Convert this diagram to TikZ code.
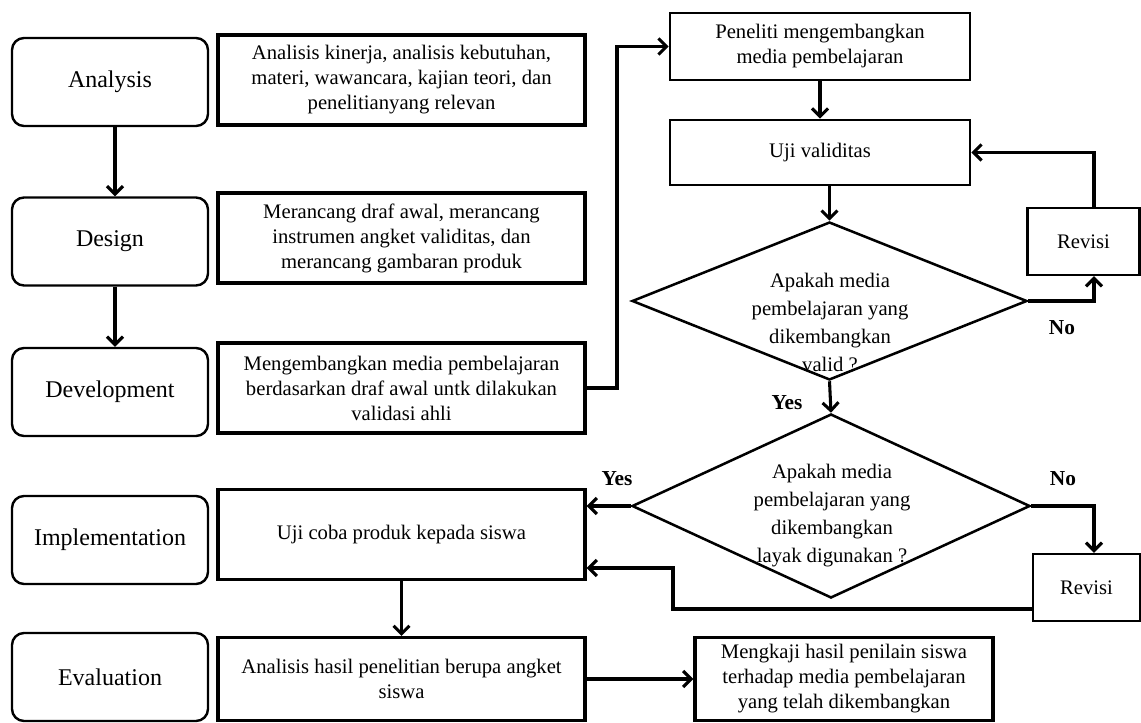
\documentclass[tikz,border=0pt]{standalone}
\usepackage{fontspec}
\setmainfont{Liberation Serif}
\usetikzlibrary{arrows.meta,shapes.geometric}
\begin{document}
\begin{tikzpicture}[x=0.75pt,y=-0.75pt,
  lbl/.style={draw, line width=1.8pt, rounded corners=9pt, minimum width=147pt, minimum height=66pt, font=\fontsize{18}{21}\selectfont},
  desc/.style={draw, line width=2.6pt, minimum width=275.25pt, minimum height=67.5pt, align=center, inner sep=0pt, font=\fontsize{15.5}{18.75}\selectfont},
  pbox/.style={draw, line width=2.1pt, align=center, inner sep=0pt, font=\fontsize{15.5}{18.75}\selectfont},
  dia/.style={draw, diamond, line width=1.9pt, inner sep=0pt},
  dtext/.style={align=center, inner sep=0pt, font=\fontsize{15.5}{21}\selectfont},
  yn/.style={font=\fontsize{16}{18}\selectfont\bfseries},
  arr/.style={line width=2.3pt, -{Straight Barb[length=6pt,width=12pt,line width=2.3pt]}}]
\useasboundingbox (0,0) rectangle (1141,723);

% left column
\node[lbl] (an) at (110,82) {Analysis};
\node[lbl] (de) at (110,241.5) {Design};
\node[lbl] (dv) at (110,392) {Development};
\node[lbl] (im) at (110,540) {Implementation};
\node[lbl] (ev) at (110,677) {Evaluation};

% descriptions
\node[desc] (d1) at (401.5,80) {Analisis kinerja, analisis kebutuhan,\\ materi, wawancara, kajian teori, dan\\ penelitianyang relevan};
\node[desc] (d2) at (401.5,238) {Merancang draf awal, merancang\\ instrumen angket validitas, dan\\ merancang gambaran produk};
\node[desc] (d3) at (401.5,388) {Mengembangkan media pembelajaran\\ berdasarkan draf awal untk dilakukan\\ validasi ahli};
\node[desc] (d4) at (401.5,534.5) {Uji coba produk kepada siswa};
\node[desc, minimum height=62pt] (d5) at (401.5,679) {Analisis hasil penelitian berupa angket\\ siswa};

% right part
\node[pbox, minimum width=225pt, minimum height=50.25pt] (pe) at (820,46.5) {Peneliti mengembangkan\\ media pembelajaran};
\node[pbox, minimum width=225pt, minimum height=48.75pt] (uv) at (820,152.5) {Uji validitas};
\node[dia, minimum width=296.25pt, minimum height=118.5pt] (q1) at (829.5,301) {};
\node[dtext] (q1t) at (830,322) {Apakah media\\ pembelajaran yang\\ dikembangkan\\ valid ?};
\node[dia, minimum width=298.5pt, minimum height=138pt] (q2) at (831,506) {};
\node[dtext] (q2t) at (832,516) {Apakah media\\ pembelajaran yang\\ dikembangkan\\ layak digunakan ?};
\node[pbox, line width=1.8pt, minimum width=84pt, minimum height=50.25pt] (r1) at (1083.5,241.5) {Revisi};
\node[pbox, line width=1.8pt, minimum width=80.25pt, minimum height=50.25pt] (r2) at (1086.5,587.5) {Revisi};
\node[pbox, line width=2.6pt, minimum width=223.5pt, minimum height=62pt] (mk) at (844,679) {Mengkaji hasil penilain siswa\\ terhadap media pembelajaran\\ yang telah dikembangkan};

% labels
\node[yn] (no1) at (1062,328) {No};
\node[yn] (yes1) at (787,403) {Yes};
\node[yn] (yes2) at (617,479) {Yes};
\node[yn] (no2) at (1063,479) {No};

% helper coordinates
\coordinate (c1) at (617,0);
\coordinate (k1) at (1094,0);
\coordinate (k2) at (673,609);
\coordinate (k3) at (673,568);

% connectors
\draw[arr] ([xshift=3.75pt]an.south) -- ([xshift=3.75pt]de.north);
\draw[arr] ([xshift=3.75pt]de.south) -- ([xshift=3.75pt]dv.north);
\draw[arr] (d3.east) -- (d3.east -| c1) |- (pe.west);
\draw[arr] (pe.south) -- (uv.north);
\draw[arr] (uv.south -| q1.north) -- (q1.north);
\draw[arr] (q1.east) -| (k1 |- r1.south);
\draw[arr] (k1 |- r1.north) |- (uv.east);
\draw[arr] (q1.south) -- (q2.north);
\draw[arr] (q2.west) -- (q2.west -| d4.east);
\draw[arr] (q2.east) -| (k1 |- r2.north);
\draw[arr] (r2.west |- k2) -- (k2) -- (k3) -- (k3 -| d4.east);
\draw[arr] (d4.south) -- (d5.north);
\draw[arr] (d5.east) -- (mk.west);
\end{tikzpicture}
\end{document}
